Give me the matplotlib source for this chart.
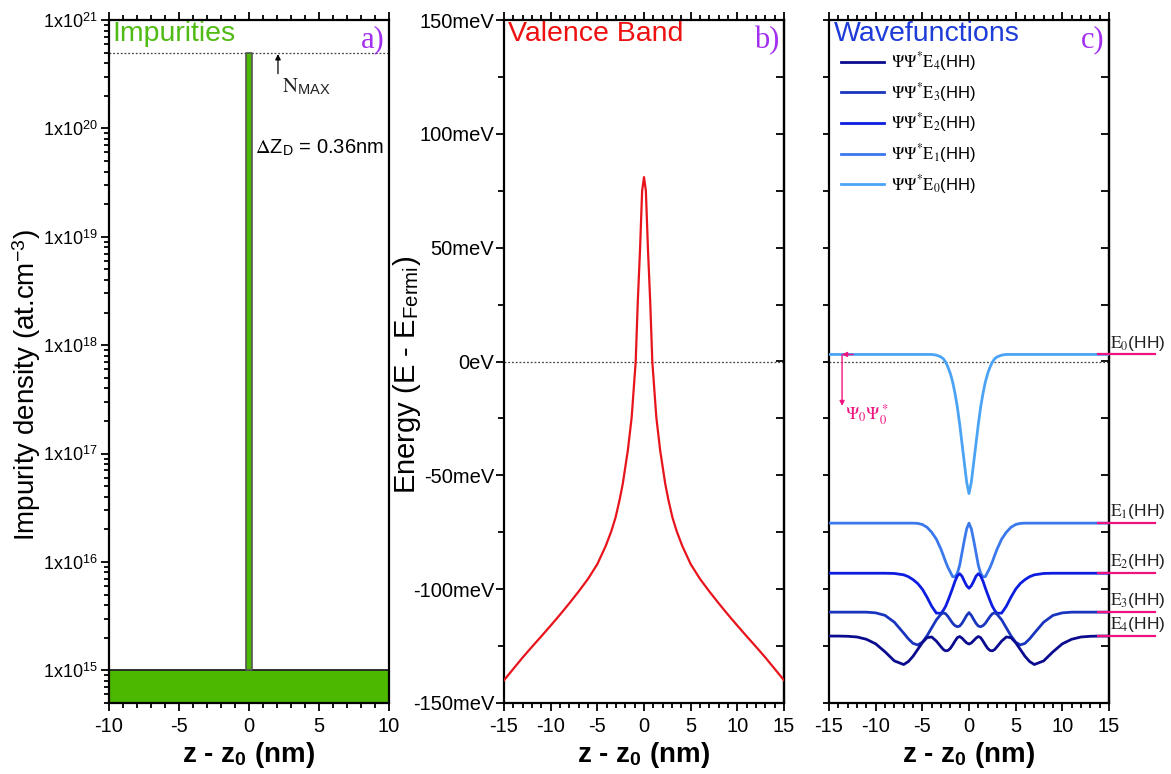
import numpy as np
import matplotlib
matplotlib.use("Agg")
import matplotlib.pyplot as plt
from matplotlib.ticker import FixedLocator, MultipleLocator, NullFormatter, FixedFormatter, LogLocator

plt.rcParams['font.family'] = ['Liberation Sans', 'DejaVu Sans']
plt.rcParams['mathtext.fontset'] = 'stix'
plt.rcParams['axes.unicode_minus'] = False

# ---------------- data ----------------
# a) impurity profile
DELTA_Z = 0.36            # nm, width of the delta layer
N_MAX = 5e20              # at/cm^3, peak doping
N_BACKGROUND = 1e15       # at/cm^3, background doping
Y_MIN_A = 5e14

# b) valence band edge (symmetric around z0), half profile for z >= 0
vb_z_half = [0.0, 0.2, 0.43, 0.66, 0.89, 1.32, 1.73, 2.27, 2.6, 3.04, 3.5, 4.1, 5.0, 6.0,
             7.0, 8.0, 9.0, 10.0, 11.0, 12.0, 13.0, 14.0, 15.0]
vb_e_half = [81.0, 75.0, 48.7, 26.8, 0.0, -24.5, -39.0, -53.6, -60.5, -68.4, -74.5, -81.0, -89.0, -95.5,
             -101.0, -106.2, -111.2, -116.0, -120.7, -125.3, -130.0, -135.0, -140.0]

# c) hole levels and |psi|^2 profiles drawn below each level (half profiles, z >= 0)
wf_z_half = [0.0, 0.25, 0.5, 0.75, 1.0, 1.25, 1.5, 1.75, 2.0, 2.25, 2.5, 2.75, 3.0,
             3.5, 4.0, 4.5, 5.0, 5.5, 6.0, 6.5, 7.0, 8.0, 9.0, 10.0, 11.0, 12.0,
             13.0, 14.0, 15.0]
wf_e0_half = [-58.0, -53.0, -44.5, -36.0, -27.5, -20.0, -14.0, -9.0, -5.3, -2.5, -0.3, 1.2, 2.0,
              2.8, 3.1, 3.1, 3.1, 3.1, 3.1, 3.1, 3.1, 3.1, 3.1, 3.1, 3.1, 3.1,
              3.1, 3.1, 3.1]
wf_e1_half = [-71.0, -73.5, -78.5, -84.0, -89.5, -93.0, -94.6, -94.5, -92.5, -90.5, -88.0, -85.2, -82.5,
              -78.0, -75.0, -72.8, -71.6, -71.1, -71.0, -71.0, -71.0, -71.0, -71.0, -71.0, -71.0, -71.0,
              -71.0, -71.0, -71.0]
wf_e2_half = [-99.6, -98.5, -96.5, -94.3, -93.2, -94.2, -96.5, -99.5, -102.3, -105.0, -107.5, -109.3, -110.6,
              -110.5, -107.5, -103.5, -100.0, -97.5, -95.8, -94.5, -93.7, -93.1, -93.0, -93.0, -93.0, -93.0,
              -93.0, -93.0, -93.0]
wf_e3_half = [-110.3, -111.5, -113.3, -115.0, -116.2, -116.5, -116.0, -115.0, -113.5, -112.0, -110.8, -110.4, -111.0,
              -113.5, -117.0, -120.5, -123.3, -124.5, -123.8, -121.8, -119.3, -114.5, -111.5, -110.4, -110.1, -110.1,
              -110.1, -110.1, -110.1]
wf_e4_half = [-124.1, -123.6, -122.6, -121.5, -120.8, -121.3, -122.8, -124.5, -126.0, -126.9, -127.1, -126.5, -125.3,
              -122.8, -121.0, -121.3, -123.5, -126.5, -129.5, -131.8, -133.1, -131.5, -127.5, -124.0, -122.0, -121.0,
              -120.7, -120.6, -120.6]
E_LEVELS = [3.1, -71.0, -93.0, -110.1, -120.6]
WF_COLORS = ['#4ba3f5', '#3a78ec', '#0c1de0', '#1a35bd', '#0b0b8f']

PINK = '#f0127f'
PURPLE = '#a22ef0'


def mirror(z_half, v_half):
    z = np.concatenate([-np.array(z_half[:0:-1]), np.array(z_half)])
    v = np.concatenate([np.array(v_half[:0:-1]), np.array(v_half)])
    return z, v


TICK_FS = 14.5
LABEL_FS = 20
TITLE_FS = 20.5
XLABEL = r'z - z$_{\mathregular{0}}$ (nm)'

fig = plt.figure(figsize=(11.71, 7.74), dpi=100)
W, H = 1171, 774


def add_axes(x0, x1, y0=20, y1=703):
    return fig.add_axes([x0 / W, 1 - y1 / H, (x1 - x0) / W, (y1 - y0) / H])


def style_axes(ax):
    for s in ax.spines.values():
        s.set_linewidth(1.6)
    ax.tick_params(which='both', direction='out', top=True, bottom=True,
                   right=False, width=1.3, labelsize=TICK_FS, pad=4)
    ax.tick_params(which='major', length=6)
    ax.tick_params(which='minor', length=3.5)
    ax.xaxis.set_major_locator(MultipleLocator(5))
    ax.xaxis.set_minor_locator(MultipleLocator(1))
    ax.set_xlabel(XLABEL, fontsize=20, fontweight='bold', labelpad=3)


def right_ticks(ax, step):
    sec = ax.secondary_yaxis('right')
    sec.yaxis.set_major_locator(MultipleLocator(step))
    sec.tick_params(direction='in', length=6, width=1.3, labelright=False)
    sec.spines['right'].set_linewidth(1.6)
    return sec


def panel_tag(ax, tag):
    ax.text(0.985, 0.992, tag, transform=ax.transAxes, color=PURPLE,
            fontsize=22, va='top', ha='right', family='Liberation Serif')


# ---------------- a) impurities ----------------
axa = add_axes(109, 389)
axa.set_yscale('log')
axa.set_xlim(-10, 10)
axa.set_ylim(Y_MIN_A, 1e21)
axa.fill_between([-10, 10], Y_MIN_A, N_BACKGROUND, facecolor='#4cb800',
                 edgecolor='#222222', linewidth=1.3, zorder=2)
axa.fill_between([-DELTA_Z / 2, DELTA_Z / 2], N_BACKGROUND, N_MAX, facecolor='#4cb800',
                 edgecolor='#555555', linewidth=1.2, zorder=2)
axa.axhline(N_MAX, color='#444444', lw=0.9, ls=(0, (1.5, 1.5)), zorder=1)
style_axes(axa)
decades = [15, 16, 17, 18, 19, 20, 21]
axa.yaxis.set_major_locator(FixedLocator([10.0 ** d for d in decades]))
axa.yaxis.set_major_formatter(FixedFormatter([r'1x10$^{\mathregular{%d}}$' % d for d in decades]))
axa.yaxis.set_minor_locator(LogLocator(base=10, subs=np.arange(2, 10), numticks=20))
axa.yaxis.set_minor_formatter(NullFormatter())
axa.tick_params(axis='y', labelsize=13, pad=2)
axa.set_ylabel(r'Impurity density (at.cm$^{\mathregular{-3}}$)', fontsize=LABEL_FS)
axa.yaxis.set_label_coords(-0.235, 0.466)
axa.text(0.012, 0.998, 'Impurities', transform=axa.transAxes, color='#50bb14',
         fontsize=TITLE_FS, va='top', ha='left')
panel_tag(axa, 'a)')
axa.annotate('', xy=(2.07, 4.85e20), xytext=(2.07, 3.2e20),
             arrowprops=dict(arrowstyle='-|>', color='black', lw=0.9,
                             mutation_scale=8, shrinkA=0, shrinkB=0))
axa.text(2.35, 3.05e20, r'$\mathrm{N}_{\mathregular{MAX}}$', fontsize=15, va='top', ha='left',
         color='#222222')
axa.text(0.45, 6.7e19, r'$\Delta$Z$_{\mathregular{D}}$ = 0.36nm', fontsize=14.5,
         va='center', ha='left')

# ---------------- b) valence band ----------------
axb = add_axes(504, 784)
vz, ve = mirror(vb_z_half, vb_e_half)
axb.plot(vz, ve, color='#e8141c', lw=1.6, zorder=3)
axb.axhline(0, color='#444444', lw=0.9, ls=(0, (1.5, 1.5)), zorder=1)
axb.set_xlim(-15, 15)
axb.set_ylim(-150, 150)
style_axes(axb)
axb.yaxis.set_major_locator(MultipleLocator(50))
axb.yaxis.set_minor_locator(MultipleLocator(25))
axb.tick_params(axis='y', which='minor', length=4)
axb.tick_params(axis='y', pad=1)
axb.yaxis.set_major_formatter(plt.FuncFormatter(lambda v, p: '0eV' if v == 0 else '%dmeV' % v))
right_ticks(axb, 25)
axb.set_ylabel(r'Energy (E - E$_{\mathregular{Fermi}}$)', fontsize=21)
axb.yaxis.set_label_coords(-0.29, 0.48)
axb.text(0.014, 0.998, 'Valence Band', transform=axb.transAxes, color='#ee1111',
         fontsize=TITLE_FS, va='top', ha='left')
panel_tag(axb, 'b)')

# ---------------- c) wavefunctions ----------------
axc = add_axes(829, 1109)
axc.set_xlim(-15, 15)
axc.set_ylim(-150, 150)
curves = [wf_e0_half, wf_e1_half, wf_e2_half, wf_e3_half, wf_e4_half]
handles = []
for n, (half, col) in enumerate(zip(curves, WF_COLORS)):
    z, v = mirror(wf_z_half, half)
    h, = axc.plot(z, v, color=col, lw=2.0, zorder=3,
                  label=r'$\Psi\Psi^{*}\mathrm{E}_{%d}$(HH)' % n)
    handles.append(h)
for n, lev in enumerate(E_LEVELS):
    axc.plot([13.8, 19.9], [lev, lev], color=PINK, lw=1.6, zorder=4, clip_on=False)
    axc.text(15.1, lev + 0.8, r'$\mathrm{E}_{%d}$(HH)' % n, fontsize=12.5,
             va='bottom', ha='left', color='#222222', clip_on=False)
axc.axhline(0, color='#444444', lw=0.9, ls=(0, (1.5, 1.5)), zorder=1)
style_axes(axc)
axc.yaxis.set_major_locator(MultipleLocator(25))
axc.tick_params(axis='y', labelleft=False, length=4)
right_ticks(axc, 25)
axc.text(0.018, 0.998, 'Wavefunctions', transform=axc.transAxes, color='#1e3cd8',
         fontsize=TITLE_FS, va='top', ha='left')
panel_tag(axc, 'c)')
axc.legend(handles=handles[::-1], loc='upper left', bbox_to_anchor=(0.0, 0.973),
           frameon=False, fontsize=12, handlelength=2.6, labelspacing=0.46,
           handletextpad=0.4, borderaxespad=0.3)

# marker showing where psi0 psi0* is measured from
axc.annotate('', xy=(-13.6, E_LEVELS[0]), xytext=(-12.4, E_LEVELS[0]),
             arrowprops=dict(arrowstyle='-|>', color=PINK, lw=1.0,
                             mutation_scale=7, shrinkA=0, shrinkB=0), zorder=5)
axc.annotate('', xy=(-13.6, -19.5), xytext=(-13.6, E_LEVELS[0]),
             arrowprops=dict(arrowstyle='-|>', color=PINK, lw=1.0,
                             mutation_scale=7, shrinkA=0, shrinkB=0), zorder=5)
axc.text(-13.3, -18.0, r'$\Psi_0\Psi_0^*$', color=PINK, fontsize=13, va='top', ha='left')

fig.savefig('out.png', dpi=100)
